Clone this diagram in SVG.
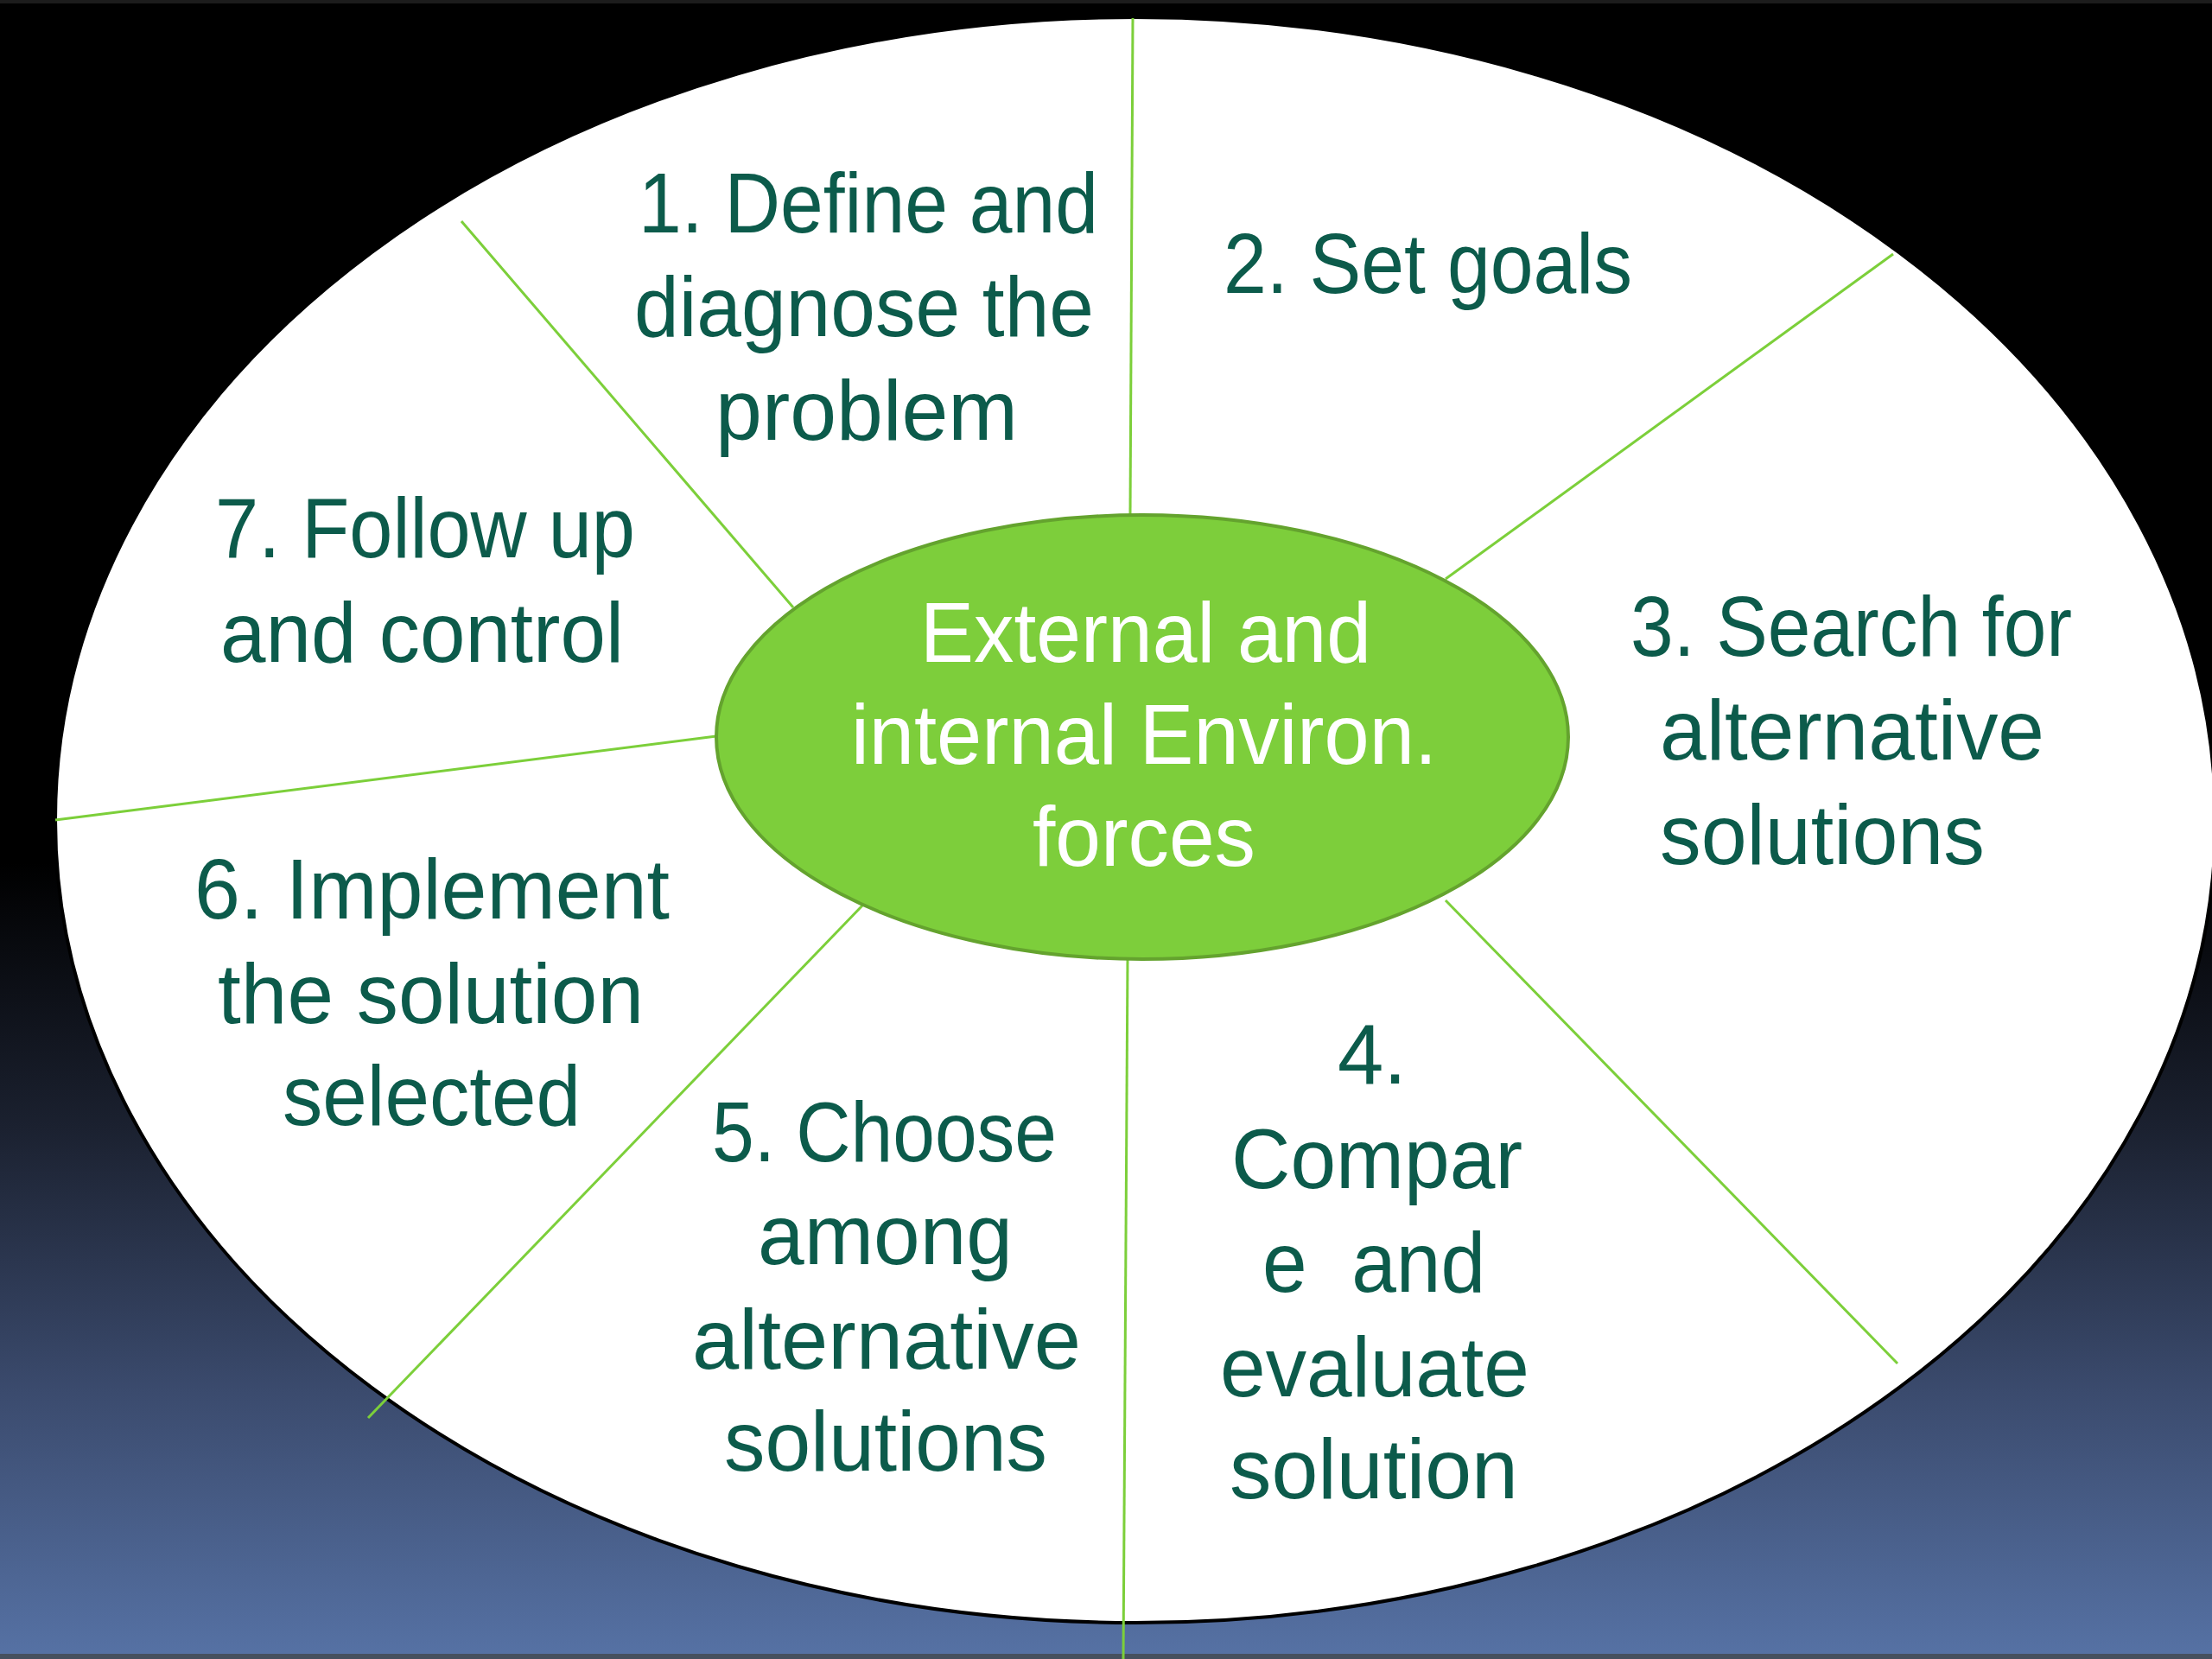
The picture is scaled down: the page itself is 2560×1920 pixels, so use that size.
<svg xmlns="http://www.w3.org/2000/svg" width="2560" height="1920" viewBox="0 0 2560 1920">
  <defs>
    <linearGradient id="bg" x1="0" y1="0" x2="0" y2="1">
      <stop offset="0" stop-color="#000000"/>
      <stop offset="0.52" stop-color="#000000"/>
      <stop offset="0.68" stop-color="#1b2130"/>
      <stop offset="0.84" stop-color="#3b4b6e"/>
      <stop offset="1" stop-color="#5672a5"/>
    </linearGradient>
    <style>
      .lbl { font-family: "Liberation Sans", Arial, sans-serif; font-size: 98px; fill: #0c5b4b; }
      .ctr { font-family: "Liberation Sans", Arial, sans-serif; font-size: 98px; fill: #ffffff; }
      .conn { stroke: #7ccf3a; stroke-width: 3; fill: none; }
    </style>
  </defs>

  <rect x="0" y="0" width="2560" height="1920" fill="url(#bg)"/>
  <rect x="0" y="0" width="2560" height="4" fill="#1c1c1c"/>
  <rect x="0" y="1914" width="2560" height="6" fill="#46505f"/>

  <g id="outer-ellipse">
    <ellipse cx="1314" cy="949" rx="1250" ry="929" fill="#ffffff" stroke="#000000" stroke-width="4"/>
  </g>

  <g id="connectors">
    <line class="conn" x1="1311" y1="21" x2="1308" y2="596"/>
    <line class="conn" x1="2191" y1="294" x2="1673" y2="670"/>
    <line class="conn" x1="1673" y1="1042" x2="2196" y2="1578"/>
    <line class="conn" x1="1305" y1="1110" x2="1300" y2="1920"/>
    <line class="conn" x1="999" y1="1047" x2="426" y2="1641"/>
    <line class="conn" x1="829" y1="852" x2="64" y2="949"/>
    <line class="conn" x1="534" y1="256" x2="918" y2="703"/>
  </g>

  <g id="center">
    <ellipse cx="1322" cy="853" rx="493" ry="257" fill="#7dce3b" stroke="#64a32e" stroke-width="4"/>
    <text class="ctr" x="1065" y="766" textLength="522" lengthAdjust="spacingAndGlyphs">External and</text>
    <text class="ctr" x="985" y="884" textLength="678" lengthAdjust="spacingAndGlyphs">internal Environ.</text>
    <text class="ctr" x="1195" y="1002" textLength="258" lengthAdjust="spacingAndGlyphs">forces</text>
  </g>

  <g id="step1">
    <text class="lbl" x="739" y="269" textLength="532" lengthAdjust="spacingAndGlyphs">1. Define and</text>
    <text class="lbl" x="734" y="389" textLength="532" lengthAdjust="spacingAndGlyphs">diagnose the</text>
    <text class="lbl" x="828" y="509" textLength="350" lengthAdjust="spacingAndGlyphs">problem</text>
  </g>

  <g id="step2">
    <text class="lbl" x="1416" y="339" textLength="473" lengthAdjust="spacingAndGlyphs">2. Set goals</text>
  </g>

  <g id="step3">
    <text class="lbl" x="1887" y="759" textLength="511" lengthAdjust="spacingAndGlyphs">3. Search for</text>
    <text class="lbl" x="1921" y="879" textLength="445" lengthAdjust="spacingAndGlyphs">alternative</text>
    <text class="lbl" x="1921" y="1000" textLength="376" lengthAdjust="spacingAndGlyphs">solutions</text>
  </g>

  <g id="step4">
    <text class="lbl" x="1548" y="1254" textLength="80" lengthAdjust="spacingAndGlyphs">4.</text>
    <text class="lbl" x="1425" y="1375" textLength="337" lengthAdjust="spacingAndGlyphs">Compar</text>
    <text class="lbl" x="1461" y="1495" textLength="258" lengthAdjust="spacingAndGlyphs" xml:space="preserve">e  and</text>
    <text class="lbl" x="1412" y="1616" textLength="358" lengthAdjust="spacingAndGlyphs">evaluate</text>
    <text class="lbl" x="1423" y="1734" textLength="334" lengthAdjust="spacingAndGlyphs">solution</text>
  </g>

  <g id="step5">
    <text class="lbl" x="824" y="1344" textLength="399" lengthAdjust="spacingAndGlyphs">5. Choose</text>
    <text class="lbl" x="877" y="1463" textLength="295" lengthAdjust="spacingAndGlyphs">among</text>
    <text class="lbl" x="801" y="1584" textLength="450" lengthAdjust="spacingAndGlyphs">alternative</text>
    <text class="lbl" x="838" y="1702" textLength="374" lengthAdjust="spacingAndGlyphs">solutions</text>
  </g>

  <g id="step6">
    <text class="lbl" x="225" y="1063" textLength="550" lengthAdjust="spacingAndGlyphs">6. Implement</text>
    <text class="lbl" x="252" y="1184" textLength="493" lengthAdjust="spacingAndGlyphs">the solution</text>
    <text class="lbl" x="327" y="1302" textLength="345" lengthAdjust="spacingAndGlyphs">selected</text>
  </g>

  <g id="step7">
    <text class="lbl" x="249" y="645" textLength="486" lengthAdjust="spacingAndGlyphs">7. Follow up</text>
    <text class="lbl" x="255" y="766" textLength="467" lengthAdjust="spacingAndGlyphs">and control</text>
  </g>
</svg>
